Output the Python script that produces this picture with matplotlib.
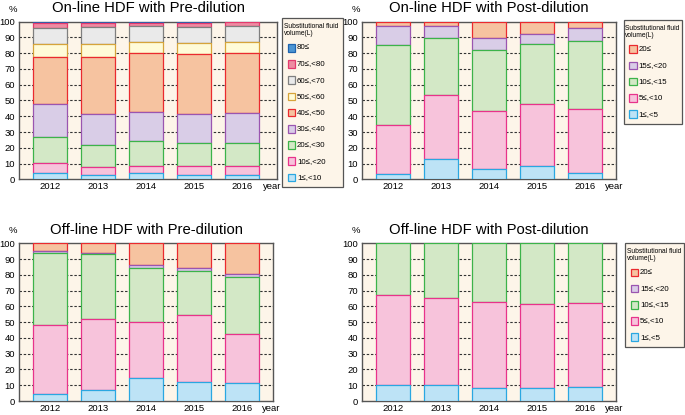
import matplotlib
matplotlib.use("Agg")
import matplotlib.pyplot as plt
from matplotlib.patches import Rectangle
from matplotlib.transforms import blended_transform_factory, offset_copy

plt.rcParams['font.family'] = ['Liberation Sans', 'DejaVu Sans']

years = ['2012', '2013', '2014', '2015', '2016']

pre_labels = ['1≤,<10', '10≤,<20', '20≤,<30', '30≤,<40', '40≤,<50',
              '50≤,<60', '60≤,<70', '70≤,<80', '80≤']
post_labels = ['1≤,<5', '5≤,<10', '10≤,<15', '15≤,<20', '20≤']

# one row per volume class (bottom to top), one value per year (%)
online_pre = [
    [3.8, 2.5, 3.8, 2.5, 2.5],
    [6.3, 5.1, 4.7, 6.0, 6.0],
    [16.5, 14.4, 15.8, 14.3, 14.8],
    [21.0, 19.6, 18.6, 18.4, 18.6],
    [30.2, 35.8, 37.0, 38.3, 38.0],
    [8.2, 8.2, 7.4, 6.8, 7.4],
    [10.0, 10.8, 10.0, 10.5, 10.0],
    [3.0, 2.6, 2.1, 2.2, 2.5],
    [1.0, 1.0, 0.6, 1.0, 0.2],
]
online_post = [
    [3.4, 12.9, 6.8, 8.7, 4.2],
    [31.3, 40.6, 36.8, 38.9, 40.6],
    [50.5, 36.1, 38.2, 38.2, 42.9],
    [12.3, 7.9, 7.8, 6.4, 8.1],
    [2.5, 2.5, 10.4, 7.8, 4.2],
]
offline_pre = [
    [4.2, 6.8, 14.4, 12.3, 11.2],
    [44.2, 45.2, 35.9, 42.0, 31.1],
    [45.3, 41.0, 33.8, 28.2, 36.1],
    [1.6, 1.1, 2.2, 2.1, 2.4],
    [4.7, 5.9, 13.7, 15.4, 19.2],
]
offline_post = [
    [9.9, 9.9, 8.2, 8.0, 8.7],
    [57.3, 55.2, 54.8, 53.3, 53.7],
    [32.8, 34.9, 37.0, 38.7, 37.6],
    [0.0, 0.0, 0.0, 0.0, 0.0],
    [0.0, 0.0, 0.0, 0.0, 0.0],
]

pre_fill = ['#BDE3F6', '#F7C3DB', '#D3E8C6', '#D9CDE7', '#F6C3A0',
            '#FFFBD8', '#EAEAEA', '#EE8CA2', '#4C95D3']
pre_edge = ['#2AA7E1', '#E8338B', '#3CB34A', '#9A55B0', '#EA2A2F',
            '#D6A43A', '#7F7F7F', '#E33A6E', '#1E63AE']
post_fill = pre_fill[:5]
post_edge = pre_edge[:5]

W, H = 685, 415
fig = plt.figure(figsize=(W / 100, H / 100), dpi=100)


def fx(x):
    return x / W


def fy(y):
    return 1 - y / H


def px_axes(x0, y0, x1, y1):
    return fig.add_axes([fx(x0), fy(y1), (x1 - x0) / W, (y1 - y0) / H])


def draw_panel(ax, title, rows, fills, edges, xlim):
    ax.set_facecolor('#FDF5E9')
    x = list(range(len(years)))
    bottom = [0.0] * len(years)
    for i, vals in enumerate(rows):
        lws = [0.9 if v > 0 else 0 for v in vals]
        ax.bar(x, vals, bottom=bottom, width=0.7, color=fills[i],
               edgecolor=edges[i], linewidth=lws, zorder=20 - i)
        bottom = [b + v for b, v in zip(bottom, vals)]
    ax.set_xlim(*xlim)
    ax.set_ylim(0, 100)
    ax.set_yticks(range(0, 101, 10))
    ax.set_xticks(x)
    ax.set_xticklabels(years)
    ax.tick_params(length=0, labelsize=6.8, pad=3)
    ax.tick_params(axis='x', pad=2)
    for yv in range(10, 100, 10):
        ax.axhline(yv, color='#333333', lw=0.8, ls=(0, (2.2, 1.6)), zorder=1)
    for s in ax.spines.values():
        s.set_color('#555555')
        s.set_linewidth(1.0)
    ax.set_title(title, fontsize=10.7, pad=7)
    tr = offset_copy(blended_transform_factory(ax.transData, ax.transAxes),
                     fig=fig, x=0, y=-3, units='dots')
    ax.text(4.62, 0, 'year', transform=tr, ha='center', va='top',
            fontsize=6.8)
    tr2 = offset_copy(ax.transAxes, fig=fig, x=-6, y=8, units='dots')
    ax.text(0, 1, '%', transform=tr2, ha='center', va='bottom', fontsize=6.8)


def add_legend(labels, fills, edges, x0, y0, x1):
    # legend box drawn in figure pixels: title, then entries top to bottom
    step = 16.2
    n = len(labels)
    first = y0 + 29.3
    y1 = first + (n - 1) * step + 9.5
    fig.add_artist(Rectangle((fx(x0), fy(y1)), (x1 - x0) / W, (y1 - y0) / H,
                             transform=fig.transFigure, facecolor='#FDF5E9',
                             edgecolor='#555555', linewidth=0.9, zorder=1))
    fig.text(fx(x0 + 1.8), fy(y0 + 8.3), 'Substitutional fluid',
             fontsize=4.8, va='center', ha='left', zorder=2)
    fig.text(fx(x0 + 1.8), fy(y0 + 15.2), 'volume(L)',
             fontsize=4.8, va='center', ha='left', zorder=2)
    for k in range(n):
        idx = n - 1 - k
        yc = first + k * step
        fig.add_artist(Rectangle((fx(x0 + 5.5), fy(yc + 3.8)), 7.6 / W,
                                 7.6 / H, transform=fig.transFigure,
                                 facecolor=fills[idx], edgecolor=edges[idx],
                                 linewidth=0.9, zorder=2))
        fig.text(fx(x0 + 15), fy(yc), labels[idx], fontsize=5.7,
                 va='center', ha='left', zorder=2)


ax1 = px_axes(19, 21.7, 277, 179.3)
draw_panel(ax1, 'On-line HDF with Pre-dilution', online_pre, pre_fill,
           pre_edge, (-0.646, 4.73))
add_legend(pre_labels, pre_fill, pre_edge, 282, 18.5, 343)

ax2 = px_axes(362, 21.7, 616, 179.3)
draw_panel(ax2, 'On-line HDF with Post-dilution', online_post, post_fill,
           post_edge, (-0.65, 4.65))
add_legend(post_labels, post_fill, post_edge, 623.5, 20, 682)

ax3 = px_axes(19, 243.3, 273, 401)
draw_panel(ax3, 'Off-line HDF with Pre-dilution', offline_pre, post_fill,
           post_edge, (-0.646, 4.65))

ax4 = px_axes(362, 243.3, 616, 401)
draw_panel(ax4, 'Off-line HDF with Post-dilution', offline_post, post_fill,
           post_edge, (-0.65, 4.65))
add_legend(post_labels, post_fill, post_edge, 625, 243, 684)

fig.savefig('out.png', dpi=100)
